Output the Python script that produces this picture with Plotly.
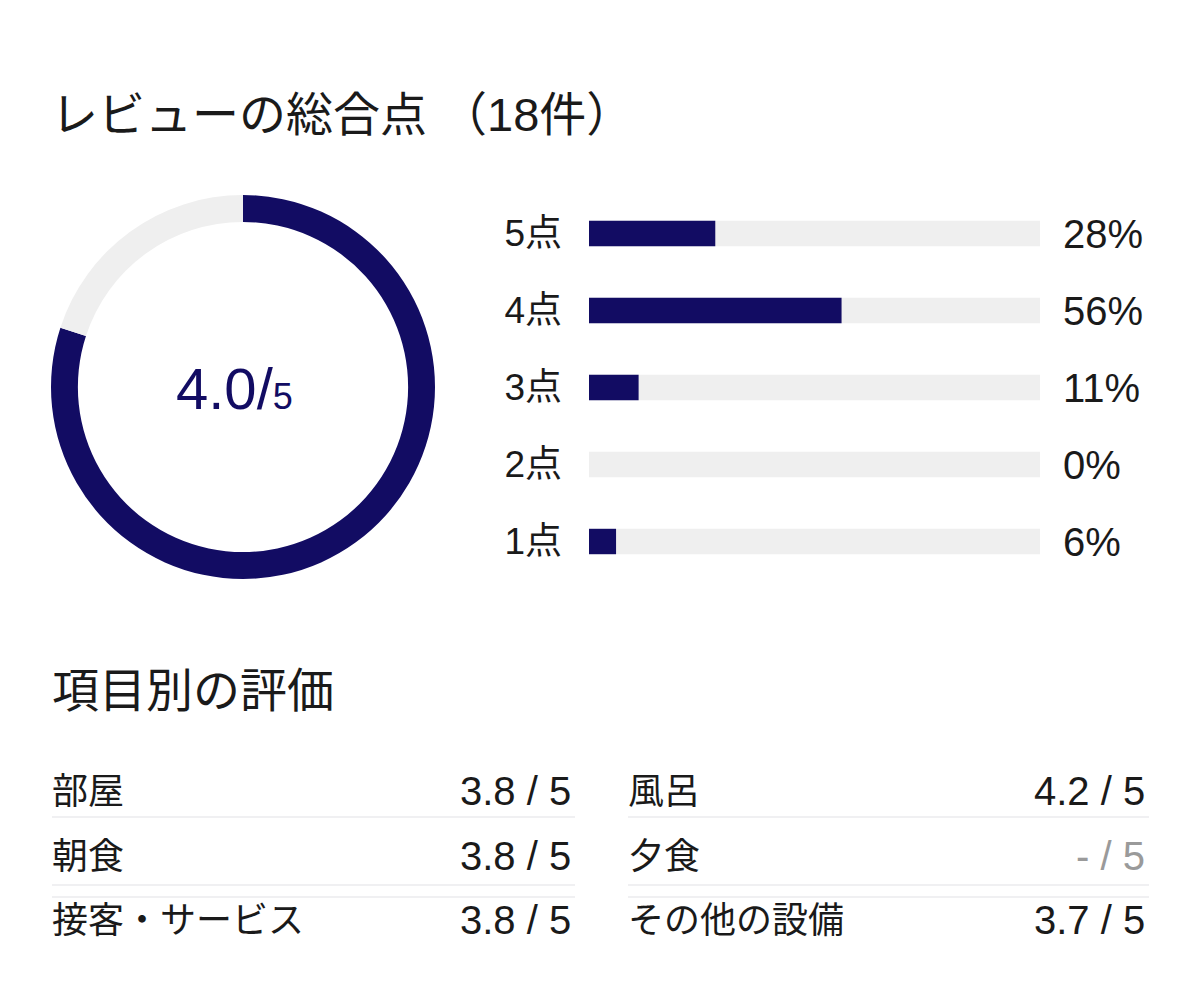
import plotly.graph_objects as go

# ---------------- data ----------------
TITLE = "レビューの総合点 （18件）"
REVIEW_COUNT = 18
OVERALL_SCORE = 4.0
SCORE_MAX = 5

STAR_LABELS = ["5点", "4点", "3点", "2点", "1点"]
STAR_PERCENTS = [28, 56, 11, 0, 6]

SECTION_TITLE = "項目別の評価"
LEFT_ITEMS = ["部屋", "朝食", "接客・サービス"]
LEFT_SCORES = [3.8, 3.8, 3.8]
RIGHT_ITEMS = ["風呂", "夕食", "その他の設備"]
RIGHT_SCORES = [4.2, None, 3.7]

# ---------------- styling ----------------
PAGE_W, PAGE_H = 1200, 997
BODY_MARGIN = 8
W, H = PAGE_W - 2 * BODY_MARGIN, PAGE_H - 2 * BODY_MARGIN
NAVY = "#120c63"
TRACK = "#efefef"
TEXT = "#1a1a1a"
MUTED = "#9a9a9a"
LINE = "#f0f0f2"
FONT = "Liberation Sans, Noto Sans CJK JP, sans-serif"


def px(x):
    return (x - BODY_MARGIN) / W


def py(y):
    return 1 - (y - BODY_MARGIN) / H


fig = go.Figure()

# donut
fig.add_trace(go.Pie(
    values=[OVERALL_SCORE, SCORE_MAX - OVERALL_SCORE],
    marker=dict(colors=[NAVY, TRACK], line=dict(width=0)),
    hole=0.86, sort=False, direction="clockwise", rotation=0,
    textinfo="none", hoverinfo="skip", showlegend=False,
    domain=dict(x=[px(51), px(435)], y=[py(579), py(195)]),
))

# bar tracks (full scale) and values
fig.add_trace(go.Bar(
    y=STAR_LABELS, x=[100] * len(STAR_LABELS), orientation="h",
    marker=dict(color=TRACK, line=dict(width=0)), width=0.33,
    hoverinfo="skip", showlegend=False, xaxis="x", yaxis="y",
))
fig.add_trace(go.Bar(
    y=STAR_LABELS, x=STAR_PERCENTS, orientation="h",
    marker=dict(color=NAVY, line=dict(width=0)), width=0.33,
    hoverinfo="skip", showlegend=False, xaxis="x", yaxis="y2",
))

ann = []
ann.append(dict(x=px(49), y=py(115), xref="paper", yref="paper", text=TITLE,
                showarrow=False, xanchor="left", yanchor="middle",
                font=dict(size=47, color=TEXT, family=FONT)))
ann.append(dict(x=px(234), y=py(388), xref="paper", yref="paper",
                text=f"{OVERALL_SCORE:.1f}/<span style='font-size:36px'>{SCORE_MAX}</span>",
                showarrow=False, xanchor="center", yanchor="middle",
                font=dict(size=58, color=NAVY, family=FONT)))
ann.append(dict(x=px(50), y=py(690), xref="paper", yref="paper", text=SECTION_TITLE,
                showarrow=False, xanchor="left", yanchor="middle",
                font=dict(size=47, color=TEXT, family=FONT)))

row_y = [791, 856, 920]
shapes = []
for col, (items, scores, xl, xr) in enumerate([
    (LEFT_ITEMS, LEFT_SCORES, 50, 573),
    (RIGHT_ITEMS, RIGHT_SCORES, 626, 1147),
]):
    for i, (name, sc) in enumerate(zip(items, scores)):
        ann.append(dict(x=px(xl), y=py(row_y[i]), xref="paper", yref="paper",
                        text=name, showarrow=False, xanchor="left", yanchor="middle",
                        font=dict(size=36, color=TEXT, family=FONT)))
        val = f"{sc:.1f} / {SCORE_MAX}" if sc is not None else f"- / {SCORE_MAX}"
        ann.append(dict(x=px(xr), y=py(row_y[i]), xref="paper", yref="paper",
                        text=val, showarrow=False, xanchor="right", yanchor="middle",
                        font=dict(size=40, color=TEXT if sc is not None else MUTED,
                                  family=FONT)))
    for ly in [817, 885, 897]:
        shapes.append(dict(type="line", xref="paper", yref="paper",
                           x0=px(xl + 2), x1=px(xr + 2), y0=py(ly), y1=py(ly),
                           line=dict(color=LINE, width=2)))

fig.update_layout(
    width=W, height=H,
    margin=dict(l=0, r=0, t=0, b=0),
    paper_bgcolor="white", plot_bgcolor="white",
    barmode="overlay",
    font=dict(family=FONT, color=TEXT),
    xaxis=dict(domain=[px(589), px(1040)], range=[0, 100], visible=False,
               fixedrange=True),
    yaxis=dict(domain=[py(580), py(195)], type="category",
               categoryorder="array", categoryarray=STAR_LABELS,
               range=[len(STAR_LABELS) - 0.5, -0.5],
               showgrid=False, zeroline=False, showline=False, ticks="",
               ticklabelstandoff=26, tickfont=dict(size=37, color=TEXT, family=FONT)),
    yaxis2=dict(overlaying="y", side="right", anchor="x", type="category",
                categoryorder="array", categoryarray=STAR_LABELS,
                range=[len(STAR_LABELS) - 0.5, -0.5],
                tickmode="array", tickvals=STAR_LABELS,
                ticktext=[f"{p}%" for p in STAR_PERCENTS],
                showgrid=False, zeroline=False, showline=False, ticks="",
                ticklabelstandoff=22, tickfont=dict(size=40, color=TEXT, family=FONT)),
    annotations=ann,
    shapes=shapes,
)

fig.write_html("out.html")
